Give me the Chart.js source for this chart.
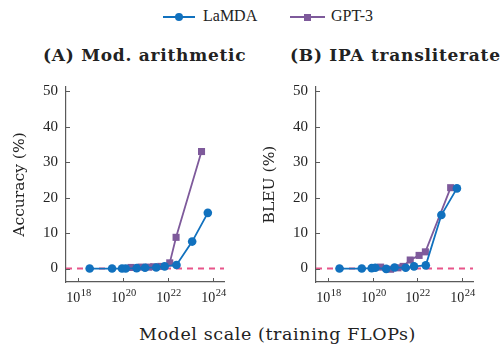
<!DOCTYPE html>
<html>
<head>
<meta charset="utf-8">
<script src="https://cdn.jsdelivr.net/npm/chart.js@4.4.1/dist/chart.umd.min.js"></script>
<style>
  body { margin: 0; background: #fff; }
  #wrap { position: relative; width: 504px; height: 348px; overflow: hidden; font-family: "Liberation Serif", serif; color: #222; }
  .abs { position: absolute; white-space: nowrap; }
  canvas { position: absolute; }
  .leg { font-size: 16px; top: 7px; }
  .sym { position: absolute; height: 2px; top: 16px; }
  .dot { position: absolute; width: 8px; height: 8px; border-radius: 50%; top: 13px; }
  .sq { position: absolute; width: 7px; height: 7px; top: 13.5px; }
  .ttl { font-family: "DejaVu Serif", serif; font-weight: bold; font-size: 17px; letter-spacing: 0.75px; top: 45px; }
  .xlab { font-family: "DejaVu Serif", serif; font-size: 17.5px; letter-spacing: 0.6px; top: 324px; left: 0; width: 555px; text-align: center; }
</style>
</head>
<body>
<div id="wrap">
  <div class="sym" style="left:163px;width:32px;background:#1171be"></div>
  <div class="dot" style="left:175px;background:#1171be"></div>
  <div class="abs leg" style="left:203px">LaMDA</div>
  <div class="sym" style="left:290px;width:35px;background:#7e5a9b"></div>
  <div class="sq" style="left:304px;background:#7e5a9b"></div>
  <div class="abs leg" style="left:331px">GPT-3</div>

  <div class="abs ttl" style="left:43px">(A) Mod. arithmetic</div>
  <div class="abs ttl" style="left:290px">(B) IPA transliterate</div>

  <canvas id="chartA" width="240" height="240" style="left:0;top:70px"></canvas>
  <canvas id="chartB" width="254" height="240" style="left:250px;top:70px"></canvas>

  <div class="abs xlab">Model scale (training FLOPs)</div>
</div>
<script>
(function () {
  "use strict";

  // training FLOPs of each model
  var lamdaFlops = [3.2e18, 3.2e19, 8.9e19, 1.3e20, 4.0e20, 9.5e20, 3.0e21, 7.1e21, 2.4e22, 1.2e23, 6.0e23];
  var gpt3Flops = [2.25e20, 6.3e20, 1.35e21, 2.3e21, 4.8e21, 1.2e22, 2.3e22, 3.14e23];

  // (A) modular arithmetic accuracy (%)
  var lamdaArith = [0, 0, 0, 0, 0.1, 0.2, 0.3, 0.6, 1.0, 7.6, 15.7];
  var gpt3Arith = [0.3, 0.4, 0.4, 0.5, 0.6, 1.6, 8.8, 33];

  // (B) IPA transliterate BLEU (%)
  var lamdaIpa = [0, 0, 0.1, 0.2, -0.1, 0.3, 0.2, 0.6, 0.9, 15.1, 22.6];
  var gpt3Ipa = [0.4, -0.2, 0.2, 0.6, 2.4, 3.7, 4.7, 22.8];

  var baseline = [0, 0];
  var xTickExps = [18, 20, 22, 24];
  var yTicks = [0, 10, 20, 30, 40, 50];

  var X_MIN = Math.pow(10, 17.45);
  var X_MAX = Math.pow(10, 24.5);
  var Y_MIN = -3.8;
  var Y_MAX = 51.2;

  var BLUE = "#1171be";
  var PURPLE = "#7e5a9b";
  var PINK = "#e8558a";
  var AXIS = "#5a5a5a";
  var TEXT = "#222";

  function pts(xs, ys) {
    return xs.map(function (x, i) { return { x: x, y: ys[i] }; });
  }

  var tickPlugin = {
    id: "logTicks",
    afterDraw: function (chart) {
      var ctx = chart.ctx, xs = chart.scales.x, ys = chart.scales.y, a = chart.chartArea;
      ctx.save();
      ctx.strokeStyle = AXIS;
      ctx.lineWidth = 1;
      yTicks.forEach(function (v) {
        var py = Math.round(ys.getPixelForValue(v)) + 0.5;
        ctx.beginPath();
        ctx.moveTo(a.left, py);
        ctx.lineTo(a.left + 4, py);
        ctx.stroke();
      });
      xTickExps.forEach(function (e) {
        var px = Math.round(xs.getPixelForValue(Math.pow(10, e))) + 0.5;
        ctx.beginPath();
        ctx.moveTo(px, a.bottom);
        ctx.lineTo(px, a.bottom - 4);
        ctx.stroke();

        ctx.fillStyle = TEXT;
        ctx.textBaseline = "alphabetic";
        ctx.textAlign = "left";
        ctx.font = "14px 'Liberation Serif'";
        var w1 = ctx.measureText("10").width;
        ctx.font = "10.5px 'Liberation Serif'";
        var w2 = ctx.measureText(String(e)).width;
        var x0 = px - (w1 + w2) / 2;
        ctx.font = "14px 'Liberation Serif'";
        ctx.fillText("10", x0, a.bottom + 20);
        ctx.font = "10.5px 'Liberation Serif'";
        ctx.fillText(String(e), x0 + w1 + 0.5, a.bottom + 14);
      });
      ctx.restore();
    }
  };

  function build(id, yTitle, lamdaVals, gptVals, padRight) {
    var canvas = document.getElementById(id);
    return new Chart(canvas.getContext("2d"), {
      type: "line",
      data: {
        datasets: [
          {
            label: "LaMDA",
            data: pts(lamdaFlops, lamdaVals),
            borderColor: BLUE,
            backgroundColor: BLUE,
            borderWidth: 1.8,
            pointStyle: "circle",
            pointRadius: 4.3,
            pointBorderWidth: 0,
            order: 1
          },
          {
            label: "GPT-3",
            data: pts(gpt3Flops, gptVals),
            borderColor: PURPLE,
            backgroundColor: PURPLE,
            borderWidth: 1.8,
            pointStyle: "rect",
            pointRadius: 5,
            pointBorderWidth: 0,
            order: 2
          },
          {
            label: "zero",
            data: pts([X_MIN, X_MAX], baseline),
            borderColor: PINK,
            borderWidth: 2,
            borderDash: [6, 5],
            pointRadius: 0,
            order: 3
          }
        ]
      },
      options: {
        responsive: false,
        animation: false,
        layout: { padding: { top: 10, right: padRight, left: 0, bottom: 0 } },
        scales: {
          x: {
            type: "logarithmic",
            min: X_MIN,
            max: X_MAX,
            grid: { display: false, drawTicks: false },
            border: { display: true, color: AXIS, width: 1.2 },
            ticks: { display: false },
            afterFit: function (s) { s.height = 28; }
          },
          y: {
            min: Y_MIN,
            max: Y_MAX,
            grid: { display: false, drawTicks: false },
            border: { display: true, color: AXIS, width: 1.2 },
            afterBuildTicks: function (s) {
              s.ticks = yTicks.map(function (v) { return { value: v }; });
            },
            ticks: {
              color: TEXT,
              padding: 8,
              font: { family: "Liberation Serif", size: 15 }
            },
            title: {
              display: true,
              text: yTitle,
              color: TEXT,
              font: { family: "DejaVu Serif", size: 15.5 },
              padding: { top: 11, bottom: 0 }
            },
            afterFit: function (s) { s.width = 66; }
          }
        },
        plugins: {
          legend: { display: false },
          tooltip: { enabled: false }
        }
      },
      plugins: [tickPlugin]
    });
  }

  build("chartA", "Accuracy (%)", lamdaArith, gpt3Arith, 16);
  build("chartB", "BLEU (%)", lamdaIpa, gpt3Ipa, 31);
})();
</script>
</body>
</html>
